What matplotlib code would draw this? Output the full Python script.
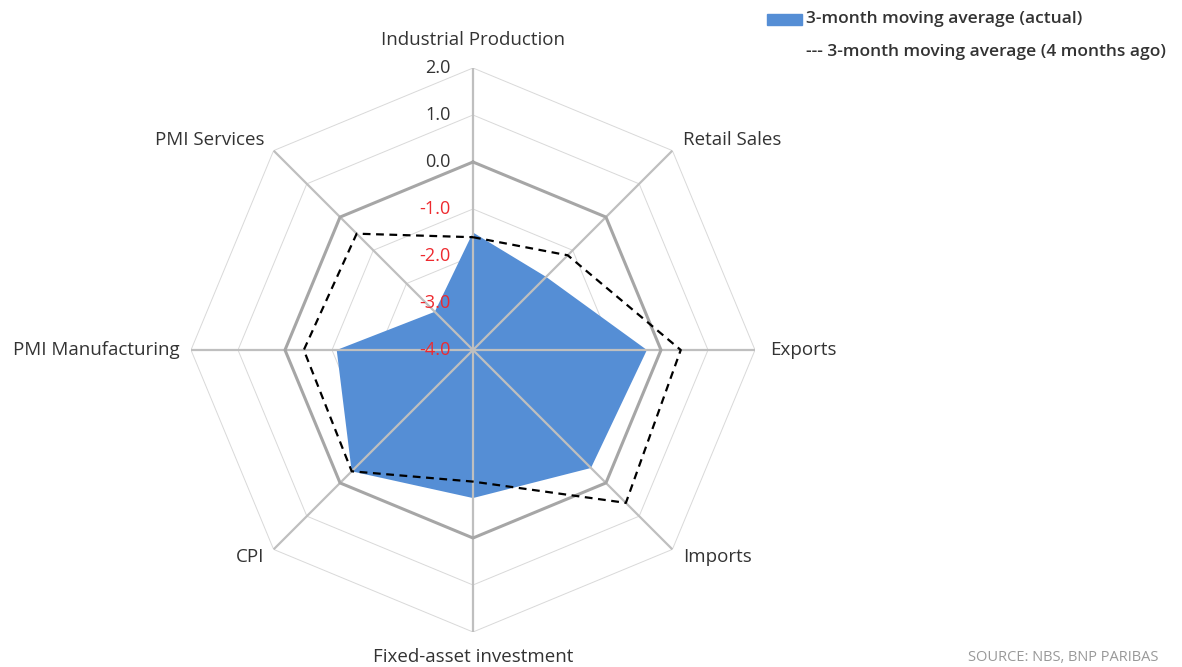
#!/usr/bin/env python

"""Radar chart: China activity indicators, 3-month moving averages."""

import numpy as np
import matplotlib
matplotlib.use("Agg")
import matplotlib.pyplot as plt
from matplotlib.patches import Rectangle

plt.rcParams["font.family"] = ["Open Sans", "DejaVu Sans"]

categories = ["Industrial Production", "Retail Sales", "Exports", "Imports",
              "Fixed-asset investment", "CPI", "PMI Manufacturing", "PMI Services"]
actual = [-1.5, -1.8, -0.3, -0.45, -0.85, -0.35, -1.1, -2.85]
four_months_ago = [-1.6, -1.15, 0.42, 0.6, -1.2, -0.35, -0.4, -0.5]
levels = [-4.0, -3.0, -2.0, -1.0, 0.0, 1.0, 2.0]
level_labels = ["-4.0", "-3.0", "-2.0", "-1.0", "0.0", "1.0", "2.0"]

blue = "#558ed5"
text_col = "#333333"

W, H = 1182, 667
fig = plt.figure(figsize=(W / 100, H / 100), dpi=100)
cx, cy, R = 473, 350, 282
ax = fig.add_axes([(cx - R) / W, (H - cy - R) / H, 2 * R / W, 2 * R / H], projection="polar")
ax.set_theta_zero_location("N")
ax.set_theta_direction(-1)
ax.set_ylim(-4, 2)
ax.grid(False)
ax.set_xticks([])
ax.set_yticks([])
ax.spines["polar"].set_visible(False)
ax.patch.set_visible(False)

n = len(categories)
theta = np.arange(n) * 2 * np.pi / n
theta_closed = np.append(theta, theta[0])

# faint octagon grid
for lvl in levels[1:]:
    if lvl == 0:
        continue
    ax.plot(theta_closed, [lvl] * (n + 1), color="#d9d9d9", lw=0.7, zorder=1)

ax.fill(theta_closed, actual + actual[:1], color=blue, lw=0, zorder=2)

for t in theta:
    ax.plot([t, t], [-4, 2], color="#bfbfbf", lw=1.6, zorder=3)
ax.plot(theta_closed, [0] * (n + 1), color="#a6a6a6", lw=2.2, zorder=3)

ax.plot(theta_closed, four_months_ago + four_months_ago[:1], color="black",
        lw=1.6, ls=(0, (3.5, 2.5)), zorder=4)

# radial tick labels
for lvl, lab in zip(levels, level_labels):
    col = "#ee2a2f" if lvl < 0 else text_col
    ax.annotate(lab, xy=(0, lvl), xytext=(-22, 0), textcoords="offset pixels",
                ha="right", va="center", fontsize=13, color=col,
                annotation_clip=False, zorder=5)

# category labels
offsets = [(0, 28, "center"), (11, 11, "left"), (15, 0, "left"), (11, -8, "left"),
           (0, -25, "center"), (-9, -8, "right"), (-11, 0, "right"), (-9, 11, "right")]
for t, cat, (dx, dy, ha) in zip(theta, categories, offsets):
    ax.annotate(cat, xy=(t, 2), xytext=(dx, dy), textcoords="offset pixels",
                ha=ha, va="center", fontsize=13.5, color=text_col,
                annotation_clip=False)

# legend
fig.patches.append(Rectangle((767 / W, (H - 25) / H), 35 / W, 11 / H,
                             transform=fig.transFigure, color=blue))
fig.text(806 / W, (H - 19) / H, "3-month moving average (actual)", fontsize=12.5,
         fontweight="semibold", color=text_col, va="center", ha="left")
fig.text(806 / W, (H - 52) / H, "--- 3-month moving average (4 months ago)", fontsize=12.5,
         fontweight="semibold", color=text_col, va="center", ha="left")

fig.text(968 / W, 2 / H, "SOURCE: NBS, BNP PARIBAS", fontsize=10.5, color="#999999",
         va="bottom", ha="left")

fig.savefig("out.png", dpi=100)
